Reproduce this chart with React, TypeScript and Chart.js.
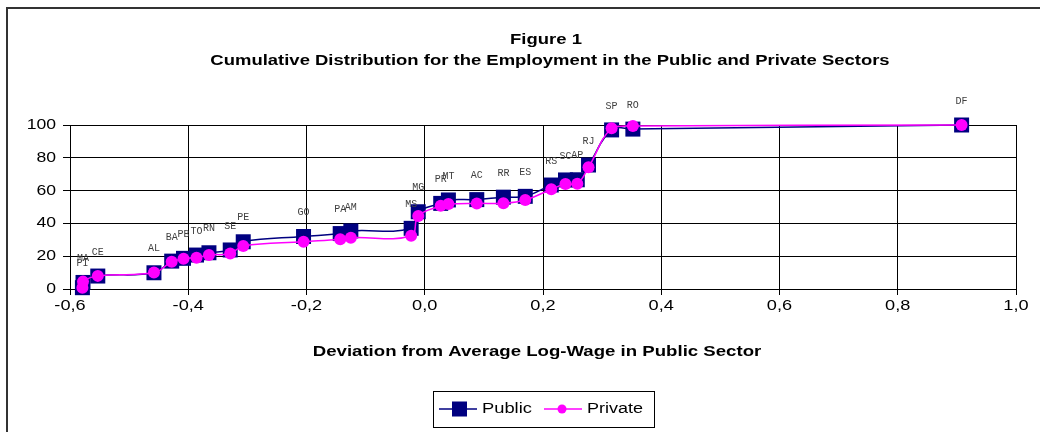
import React, { useEffect, useRef } from "react";
import { Chart, registerables } from "chart.js";

Chart.register(...registerables);

// ---- data ----
const states = ["PI", "MA", "CE", "AL", "BA", "PB", "TO", "RN", "SE", "PE", "GO", "PA", "AM", "MS", "MG", "PR", "MT", "AC", "RR", "ES", "RS", "SC", "AP", "RJ", "SP", "RO", "DF"];
const deviation = [-0.579, -0.578, -0.553, -0.458, -0.428, -0.408, -0.386, -0.365, -0.329, -0.307, -0.205, -0.143, -0.125, -0.023, -0.011, 0.027, 0.04, 0.088, 0.133, 0.17, 0.214, 0.238, 0.258, 0.277, 0.316, 0.352, 0.908];
const publicCum = [0.8, 4.0, 7.9, 9.9, 17.0, 18.7, 20.7, 22.1, 23.8, 28.8, 32.0, 33.8, 35.4, 37.0, 47.1, 52.2, 54.3, 54.5, 56.0, 56.5, 63.4, 66.5, 66.6, 75.6, 97.0, 97.5, 100];
const privateCum = [0.8, 4.5, 8.0, 10.0, 16.6, 18.5, 19.1, 20.7, 21.7, 26.2, 28.8, 30.3, 31.3, 32.5, 44.5, 50.7, 51.8, 52.2, 52.3, 54.3, 60.8, 64.0, 64.2, 74.2, 98.0, 99.4, 100];
const xTicks = [-0.6, -0.4, -0.2, 0.0, 0.2, 0.4, 0.6, 0.8, 1.0];
const yTicks = [0, 20, 40, 60, 80, 100];
const seriesNames = ["Public", "Private"];
const titleLines = ["Figure 1", "Cumulative Distribution for the Employment in the Public and Private Sectors"];
const xTitle = "Deviation from Average Log-Wage in Public Sector";

const NAVY = "#000080";
const MAGENTA = "#FF00FF";
const SANS = '"Liberation Sans", Arial, sans-serif';

function wideText(ctx: CanvasRenderingContext2D, text: string, x: number, y: number, sx: number, align: CanvasTextAlign) {
  ctx.save();
  ctx.translate(x, y);
  ctx.scale(sx, 1);
  ctx.textAlign = align;
  ctx.fillText(text, 0, 0);
  ctx.restore();
}

const fmtX = (v: number) => v.toFixed(1).replace(".", ",");

const decor = {
  id: "decor",
  afterDraw(chart: any) {
    const ctx = chart.ctx as CanvasRenderingContext2D;
    ctx.save();
    // outer frame
    ctx.strokeStyle = "#333";
    ctx.lineWidth = 2;
    ctx.strokeRect(7, 8, 1100, 500);

    ctx.fillStyle = "#000";
    ctx.textBaseline = "middle";

    // tick labels
    ctx.font = "14.67px " + SANS;
    const xs = chart.scales.x;
    const ys = chart.scales.y;
    xTicks.forEach((v) => wideText(ctx, fmtX(v), xs.getPixelForValue(v), 306, 1.24, "center"));
    yTicks.forEach((v) => wideText(ctx, String(v), 56, ys.getPixelForValue(v), 1.2, "right"));

    // titles
    ctx.font = "bold 14.67px " + SANS;
    wideText(ctx, titleLines[0], 546, 40, 1.26, "center");
    wideText(ctx, titleLines[1], 550, 61, 1.26, "center");
    wideText(ctx, xTitle, 537, 352, 1.27, "center");

    // state labels
    const meta = chart.getDatasetMeta(0);
    ctx.font = '10px "Liberation Mono", "Courier New", monospace';
    ctx.fillStyle = "#404040";
    ctx.textAlign = "center";
    meta.data.forEach((pt: any, i: number) => {
      ctx.fillText(states[i], pt.x, pt.y - 24);
    });

    // legend
    ctx.strokeStyle = "#000";
    ctx.lineWidth = 1;
    ctx.strokeRect(433.5, 391.5, 221, 36);
    const ly = 409;
    ctx.lineWidth = 1.5;
    ctx.strokeStyle = NAVY;
    ctx.beginPath();
    ctx.moveTo(439, ly);
    ctx.lineTo(477, ly);
    ctx.stroke();
    ctx.fillStyle = NAVY;
    ctx.fillRect(452, ly - 7.5, 15, 15);
    ctx.strokeStyle = MAGENTA;
    ctx.beginPath();
    ctx.moveTo(544, ly);
    ctx.lineTo(582, ly);
    ctx.stroke();
    ctx.fillStyle = MAGENTA;
    ctx.beginPath();
    ctx.arc(562, ly, 4.5, 0, Math.PI * 2);
    ctx.fill();
    ctx.fillStyle = "#000";
    ctx.font = "14.67px " + SANS;
    wideText(ctx, seriesNames[0], 482, ly, 1.25, "left");
    wideText(ctx, seriesNames[1], 587, ly, 1.23, "left");
    ctx.restore();
  },
};

export default function App() {
  const ref = useRef<HTMLCanvasElement>(null);
  useEffect(() => {
    if (!ref.current) return;
    const chart = new Chart(ref.current, {
      type: "line",
      data: {
        datasets: [
          {
            label: seriesNames[0],
            data: deviation.map((x, i) => ({ x, y: publicCum[i] })),
            borderColor: NAVY,
            backgroundColor: NAVY,
            borderWidth: 1.5,
            pointStyle: "rect",
            pointRadius: 10.6,
            pointBorderWidth: 0,
            pointBackgroundColor: NAVY,
            tension: 0.4,
            order: 1,
          },
          {
            label: seriesNames[1],
            data: deviation.map((x, i) => ({ x, y: privateCum[i] })),
            borderColor: MAGENTA,
            backgroundColor: MAGENTA,
            borderWidth: 1.5,
            pointStyle: "circle",
            pointRadius: 6,
            pointBorderWidth: 0,
            pointBackgroundColor: MAGENTA,
            tension: 0.4,
            order: 0,
          },
        ],
      },
      options: {
        animation: false,
        responsive: false,
        devicePixelRatio: 1,
        clip: false,
        layout: { padding: { left: 0, top: 125, right: 24, bottom: 0 } },
        plugins: {
          legend: { display: false },
          title: { display: false },
          tooltip: { enabled: false },
        },
        scales: {
          x: {
            type: "linear",
            min: xTicks[0],
            max: xTicks[xTicks.length - 1],
            afterBuildTicks: (scale: any) => {
              scale.ticks = xTicks.map((v) => ({ value: v }));
            },
            afterFit: (scale: any) => {
              scale.height = 143;
            },
            ticks: { display: false, autoSkip: false },
            grid: { color: "#000", lineWidth: 1, tickLength: 6 },
            border: { color: "#000", width: 1 },
          },
          y: {
            type: "linear",
            min: yTicks[0],
            max: yTicks[yTicks.length - 1],
            afterBuildTicks: (scale: any) => {
              scale.ticks = yTicks.map((v) => ({ value: v }));
            },
            afterFit: (scale: any) => {
              scale.width = 70;
            },
            ticks: { display: false, autoSkip: false },
            grid: { color: "#000", lineWidth: 1, tickLength: 7 },
            border: { color: "#000", width: 1 },
          },
        },
      },
      plugins: [decor],
    } as any);
    return () => chart.destroy();
  }, []);
  return (
    <div style={{ position: "absolute", left: 0, top: 0, width: 1040, height: 432, background: "#fff" }}>
      <canvas ref={ref} width={1040} height={432} style={{ display: "block" }} />
    </div>
  );
}
